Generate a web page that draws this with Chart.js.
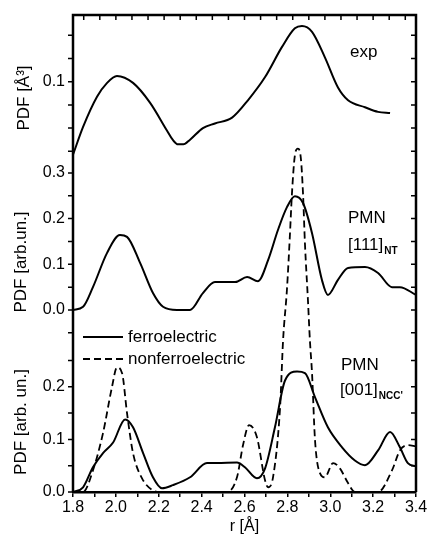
<!DOCTYPE html>
<html>
<head>
<meta charset="utf-8">
<title>PMN PDF</title>
<script src="https://cdn.jsdelivr.net/npm/chart.js"></script>
<style>
  body { margin: 0; padding: 0; background: #fff; }
  #wrap { width: 430px; height: 539px; }
</style>
</head>
<body>
<div id="wrap"><canvas id="pdfChart" width="430" height="539"></canvas></div>
<script>
// values, r in Å
const expR   = [1.80, 1.847, 1.912, 1.959, 2.005, 2.08, 2.159, 2.238, 2.265, 2.29, 2.315, 2.346, 2.406, 2.462, 2.542, 2.616, 2.696, 2.775, 2.835, 2.868, 2.915, 2.975, 3.036, 3.083, 3.162, 3.223, 3.279];
const expPDF = [0.037, 0.061, 0.087, 0.099, 0.105, 0.099, 0.082, 0.058, 0.050, 0.046, 0.046, 0.050, 0.060, 0.064, 0.069, 0.084, 0.104, 0.130, 0.146, 0.148, 0.143, 0.121, 0.095, 0.084, 0.078, 0.074, 0.073];

const ntR   = [1.80, 1.847, 1.893, 1.959, 2.019, 2.052, 2.113, 2.173, 2.22, 2.285, 2.346, 2.406, 2.462, 2.556, 2.612, 2.663, 2.71, 2.756, 2.798, 2.835, 2.873, 2.915, 2.961, 2.989, 3.036, 3.083, 3.162, 3.223, 3.288, 3.325, 3.40];
const ntPDF = [0.0, 0.007, 0.050, 0.125, 0.164, 0.160, 0.103, 0.037, 0.007, 0.0, 0.0, 0.037, 0.061, 0.061, 0.072, 0.063, 0.109, 0.175, 0.225, 0.249, 0.234, 0.168, 0.066, 0.033, 0.066, 0.092, 0.094, 0.081, 0.050, 0.050, 0.033];

const ferroR   = [1.80, 1.847, 1.893, 1.94, 1.987, 2.043, 2.08, 2.127, 2.173, 2.215, 2.266, 2.346, 2.425, 2.472, 2.565, 2.602, 2.658, 2.696, 2.742, 2.789, 2.845, 2.882, 2.929, 2.989, 3.055, 3.115, 3.162, 3.223, 3.279, 3.325, 3.362, 3.40];
const ferroPDF = [0.0, 0.009, 0.047, 0.074, 0.094, 0.138, 0.123, 0.074, 0.028, 0.007, 0.013, 0.028, 0.055, 0.055, 0.056, 0.047, 0.026, 0.045, 0.123, 0.212, 0.229, 0.226, 0.180, 0.123, 0.085, 0.060, 0.051, 0.079, 0.114, 0.085, 0.055, 0.049];

const nonR   = [1.80, 1.847, 1.893, 1.94, 1.982, 2.005, 2.029, 2.052, 2.08, 2.122, 2.173, 2.206, 2.518, 2.565, 2.593, 2.621, 2.658, 2.696, 2.71, 2.733, 2.766, 2.78, 2.798, 2.812, 2.821, 2.835, 2.849, 2.863, 2.873, 2.882, 2.896, 2.905, 2.915, 2.929, 2.952, 2.975, 3.013, 3.045, 3.083, 3.115, 3.223, 3.288, 3.325, 3.362, 3.40];
const nonPDF = [0, 0, 0.041, 0.112, 0.200, 0.237, 0.226, 0.150, 0.074, 0.026, 0.003, 0, 0, 0.028, 0.089, 0.127, 0.104, 0.022, 0.009, 0.028, 0.161, 0.289, 0.385, 0.490, 0.565, 0.640, 0.653, 0.634, 0.567, 0.472, 0.364, 0.289, 0.226, 0.098, 0.036, 0.028, 0.055, 0.045, 0.017, 0, 0, 0.041, 0.079, 0.089, 0.087];

// y tick marks / labels per panel
const topTicks  = [0.04, 0.06, 0.08, 0.1, 0.12, 0.14];
const topLabels = [0.1];
const midTicks  = [-0.05, 0, 0.05, 0.1, 0.15, 0.2, 0.25, 0.3];
const midLabels = [0, 0.1, 0.2, 0.3];
const botTicks  = [0, 0.05, 0.1, 0.15, 0.2, 0.25];
const botLabels = [0, 0.1, 0.2];

const FONT = '"Liberation Sans", Arial, Helvetica, sans-serif';

function pts(xs, ys) {
    return xs.map((x, i) => ({ x: x, y: ys[i] }));
}

const panels = [
    { axis: 'yTop', ticks: topTicks, labels: topLabels, title: 'PDF [Å³]', tx: 24, ty: 98 },
    { axis: 'yMid', ticks: midTicks, labels: midLabels, title: 'PDF [arb.un.]', tx: 21, ty: 262 },
    { axis: 'yBot', ticks: botTicks, labels: botLabels, title: 'PDF [arb. un.]', tx: 21, ty: 422 }
];

// text with a subscript tail, e.g. [111] + NT
function subText(ctx, main, sub, x, y) {
    ctx.font = '17px ' + FONT;
    ctx.fillText(main, x, y);
    const w = ctx.measureText(main).width;
    ctx.font = 'bold 10px ' + FONT;
    ctx.fillText(sub, x + w + 1, y + 4);
}

const framePlugin = {
    id: 'frame',
    afterDraw(chart) {
        const { ctx, chartArea: a, scales } = chart;
        ctx.save();
        ctx.strokeStyle = '#000';
        ctx.fillStyle = '#000';

        // box
        ctx.lineWidth = 2.5;
        ctx.beginPath();
        ctx.moveTo(a.left, a.bottom);
        ctx.lineTo(a.left, a.top);
        ctx.lineTo(a.right, a.top);
        ctx.lineTo(a.right, a.bottom);
        ctx.stroke();

        // top ticks (inward)
        ctx.lineWidth = 1.5;
        const sx = scales.x;
        ctx.beginPath();
        for (let r = 1.85; r < 3.4; r += 0.075) {
            const px = sx.getPixelForValue(r);
            ctx.moveTo(px, a.top);
            ctx.lineTo(px, a.top + 5);
        }
        ctx.stroke();

        // y ticks, labels and titles
        panels.forEach(p => {
            const s = scales[p.axis];
            ctx.beginPath();
            p.ticks.forEach(v => {
                const py = s.getPixelForValue(v);
                ctx.moveTo(a.left - 5, py);
                ctx.lineTo(a.left, py);
                ctx.moveTo(a.right - 5, py);
                ctx.lineTo(a.right, py);
            });
            ctx.stroke();

            ctx.font = '16px ' + FONT;
            ctx.textAlign = 'right';
            ctx.textBaseline = 'middle';
            p.labels.forEach(v => ctx.fillText(v.toFixed(1), a.left - 8, s.getPixelForValue(v)));

            ctx.save();
            ctx.translate(p.tx, p.ty);
            ctx.rotate(-Math.PI / 2);
            ctx.textAlign = 'center';
            ctx.font = '17px ' + FONT;
            ctx.fillText(p.title, 0, 0);
            ctx.restore();
        });

        // panel annotations
        ctx.textAlign = 'left';
        ctx.textBaseline = 'alphabetic';
        ctx.font = '17px ' + FONT;
        ctx.fillText('exp', 350, 57);
        ctx.fillText('PMN', 348, 223);
        subText(ctx, '[111]', 'NT', 348, 250);
        ctx.font = '17px ' + FONT;
        ctx.fillText('PMN', 341, 370);
        subText(ctx, '[001]', "NCC'", 340, 395);

        // legend
        const ds = chart.data.datasets;
        [[ds[2], 337, 'ferroelectric'], [ds[3], 359, 'nonferroelectric']].forEach(([d, ly, txt]) => {
            ctx.save();
            ctx.lineWidth = d.borderWidth;
            ctx.setLineDash(d.borderDash || []);
            ctx.beginPath();
            ctx.moveTo(83, ly);
            ctx.lineTo(123, ly);
            ctx.stroke();
            ctx.restore();
            ctx.font = '17px ' + FONT;
            ctx.textBaseline = 'middle';
            ctx.fillText(txt, 128, ly);
        });
        ctx.restore();
    }
};

const line = (data, axis, dash) => ({
    data: data,
    yAxisID: axis,
    borderColor: '#000',
    borderWidth: dash ? 1.8 : 2,
    borderDash: dash || [],
    pointRadius: 0,
    fill: false,
    cubicInterpolationMode: 'monotone'
});

new Chart(document.getElementById('pdfChart').getContext('2d'), {
    type: 'line',
    data: {
        datasets: [
            line(pts(expR, expPDF), 'yTop'),
            line(pts(ntR, ntPDF), 'yMid'),
            line(pts(ferroR, ferroPDF), 'yBot'),
            line(pts(nonR, nonPDF), 'yBot', [7, 4])
        ]
    },
    options: {
        responsive: false,
        animation: false,
        layout: { padding: { left: 73, right: 14, top: 15, bottom: 0 } },
        plugins: { legend: { display: false }, tooltip: { enabled: false } },
        scales: {
            x: {
                type: 'linear', min: 1.8, max: 3.4,
                afterFit(s) { s.height = 47; },
                border: { color: '#000', width: 2.5 },
                grid: { drawOnChartArea: false, color: '#000', lineWidth: 1.5, tickLength: 5 },
                ticks: {
                    stepSize: 0.1, autoSkip: false, maxRotation: 0, padding: 1, color: '#000',
                    font: { family: FONT, size: 16 },
                    callback: v => Math.round(v * 10) % 2 === 0 ? v.toFixed(1) : ''
                },
                title: { display: true, text: 'r [Å]', color: '#000', font: { family: FONT, size: 16 }, padding: { top: 0, bottom: 3 } }
            },
            yTop: { display: false, min: -0.2537, max: 0.1575 },
            yMid: { display: false, min: -0.3983, max: 0.6455 },
            yBot: { display: false, min: 0, max: 0.907 }
        }
    },
    plugins: [framePlugin]
});
</script>
</body>
</html>
